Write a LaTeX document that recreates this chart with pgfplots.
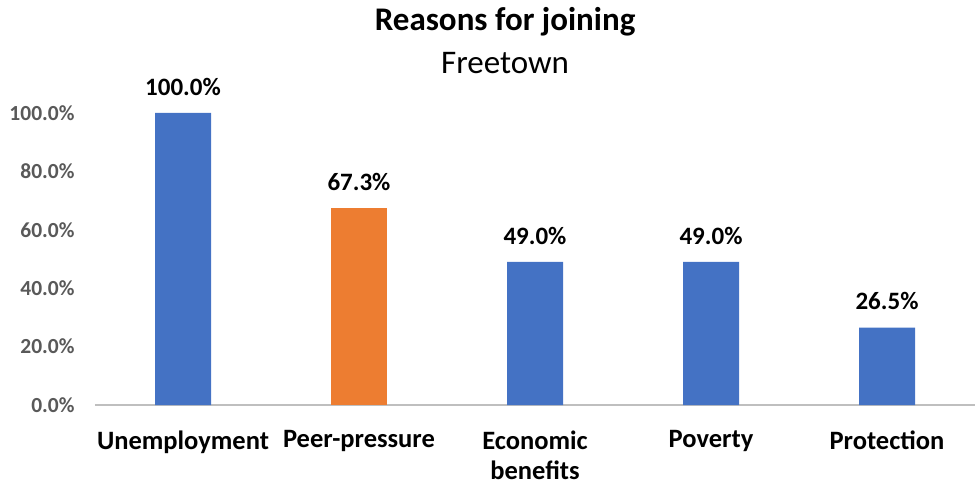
\documentclass[border=0pt]{standalone}
\usepackage{pgfplots}
\pgfplotsset{compat=1.18}
\usepackage{fontspec}
\setmainfont{Carlito}
\definecolor{barblue}{HTML}{4472C4}
\definecolor{barorange}{HTML}{ED7D31}
\definecolor{tickgray}{HTML}{595959}
\definecolor{axisgray}{HTML}{BFBFBF}
\begin{document}
\begin{tikzpicture}
\begin{axis}[
  scale only axis, width=880bp, height=292bp,
  xmin=-0.5, xmax=4.5, ymin=0, ymax=100,
  clip=false,
  ybar, bar width=56bp, bar shift=0pt,
  axis x line=bottom, axis y line=left,
  x axis line style={draw=axisgray, line width=1.5bp, -},
  y axis line style={draw=none},
  major tick length=0pt,
  xtick={0,1,2,3,4},
  xticklabels={Unemployment,Peer-pressure,{Economic\\benefits},Poverty,Protection},
  xticklabel style={align=center, font=\fontsize{26.5bp}{30bp}\selectfont\bfseries, text=black, yshift=-22bp},
  ytick={0,20,40,60,80,100},
  /pgf/number format/assume math mode=true,
  yticklabel={\pgfmathprintnumber[fixed,fixed zerofill,precision=1]{\tick}\%},
  yticklabel style={font=\fontsize{21.5bp}{25bp}\selectfont\bfseries, text=tickgray, xshift=-17bp},
  nodes near coords={\pgfmathprintnumber[fixed,fixed zerofill,precision=1]{\pgfplotspointmeta}\%},
  nodes near coords style={font=\fontsize{25bp}{29bp}\selectfont\bfseries, text=black, yshift=14bp},
]
\addplot[fill=barblue, draw=none] coordinates {(0,100) (2,49.0) (3,49.0) (4,26.5)};
\addplot[fill=barorange, draw=none] coordinates {(1,67.3)};
\coordinate (bl) at (rel axis cs:0,0);
\coordinate (tr) at (rel axis cs:1,1);
\node[font=\fontsize{33bp}{38bp}\selectfont\bfseries] at (rel axis cs:0.466,1) [yshift=91bp] {Reasons for joining};
\node[font=\fontsize{33bp}{38bp}\selectfont] at (rel axis cs:0.466,1) [yshift=50bp] {Freetown};
\end{axis}
\pgfresetboundingbox
\path ([shift={(-95bp,-82bp)}]bl) rectangle ([shift={(5bp,113bp)}]tr);
\end{tikzpicture}
\end{document}
